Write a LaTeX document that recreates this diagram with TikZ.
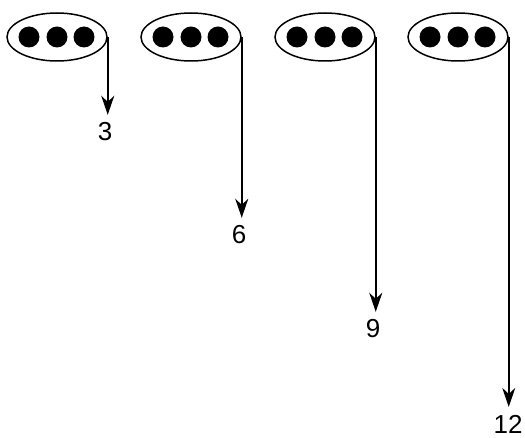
\documentclass[tikz,border=0pt]{standalone}
\usepackage{fontspec}
\setmainfont{Liberation Sans}
\usetikzlibrary{arrows.meta,shapes.geometric}

\begin{document}
\begin{tikzpicture}
[x=1pt,y=-1pt,line width=1.5pt,
 group/.style={draw,ellipse,minimum width=100pt,minimum height=48pt,inner sep=0pt},
 dot/.style={circle,fill=black,minimum size=21pt,inner sep=0pt},
 count/.style={inner sep=0pt,outer sep=8pt,font=\fontsize{26}{26}\selectfont}]
\useasboundingbox (0,0) rectangle (525,438);
\node[group] (g1) at (57,37) {};
\node[group] (g2) at (191,37) {};
\node[group] (g3) at (325,37) {};
\node[group] (g4) at (458,37) {};
\foreach \g in {g1,g2,g3,g4}
{
\node[dot] at ([xshift=-28pt]\g.center) {};
\node[dot] at (\g.center) {};
\node[dot] at ([xshift=27pt]\g.center) {};
}
\node[count] (c1) at (105,132) {3};
\node[count] (c2) at (239,235) {6};
\node[count] (c3) at (373,329) {9};
\node[count] (c4) at (508,424) {12};
\foreach \from/\to in {g1/c1,g2/c2,g3/c3,g4/c4}
\draw[-{Stealth[length=19pt,width=13pt,inset=6pt]}] (\from.east) -- (\from.east |- \to.north);
\end{tikzpicture}
\end{document}
